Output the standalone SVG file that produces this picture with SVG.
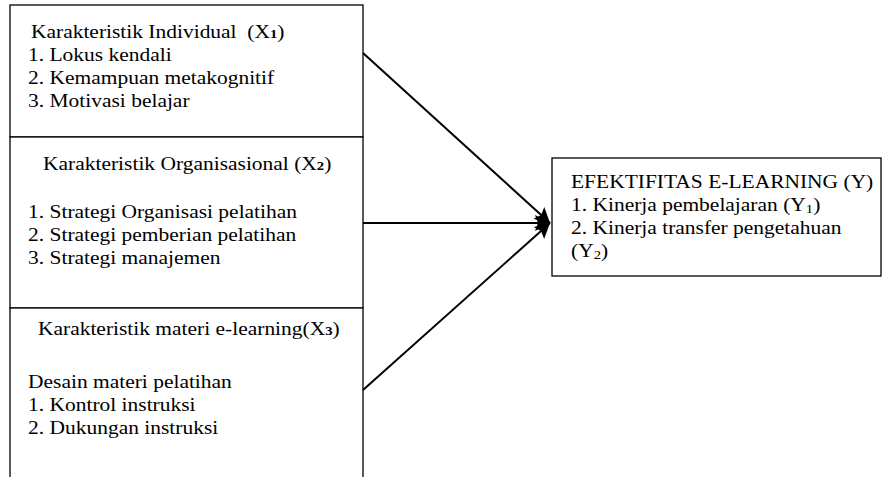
<svg xmlns="http://www.w3.org/2000/svg" width="883" height="477" viewBox="0 0 883 477">
<style>
  .box { fill: #fff; stroke: #000; stroke-width: 1.3; }
  .t { font-family: "Liberation Serif", "Times New Roman", serif; font-size: 19px; fill: #000; }
  .sb { font-size: 13px; font-weight: bold; }
  .s { font-size: 13px; }
  .conn { stroke: #000; stroke-width: 2; fill: none; marker-end: url(#ah); }
</style>
<defs>
  <marker id="ah" markerUnits="userSpaceOnUse" markerWidth="16" markerHeight="16" refX="15" refY="8" orient="auto">
    <path d="M0,0 L15,8 L0,16 L3,8 Z" fill="#000"/>
  </marker>
</defs>
<rect width="883" height="477" fill="#fff"/>
<g id="x1">
  <rect class="box" x="10" y="5" width="353" height="132"/>
  <g transform="scale(1.13,1)">
    <text class="t" x="27.4" y="38">Karakteristik Individual&#160; (X<tspan class="sb">1</tspan>)</text>
    <text class="t" x="24.8" y="61">1. Lokus kendali</text>
    <text class="t" x="24.8" y="84">2. Kemampuan metakognitif</text>
    <text class="t" x="24.8" y="107">3. Motivasi belajar</text>
  </g>
</g>
<g id="x2">
  <rect class="box" x="10" y="137" width="353" height="171"/>
  <g transform="scale(1.13,1)">
    <text class="t" x="38.1" y="170">Karakteristik Organisasional (X<tspan class="sb">2</tspan>)</text>
    <text class="t" x="24.8" y="218">1. Strategi Organisasi pelatihan</text>
    <text class="t" x="24.8" y="241">2. Strategi pemberian pelatihan</text>
    <text class="t" x="24.8" y="264">3. Strategi manajemen</text>
  </g>
</g>
<g id="x3">
  <rect class="box" x="10" y="308" width="353" height="175"/>
  <g transform="scale(1.13,1)">
    <text class="t" x="33.6" y="335">Karakteristik materi e-learning(X<tspan class="sb">3</tspan>)</text>
    <text class="t" x="24.8" y="388">Desain materi pelatihan</text>
    <text class="t" x="24.8" y="411">1. Kontrol instruksi</text>
    <text class="t" x="24.8" y="434">2. Dukungan instruksi</text>
  </g>
</g>
<g id="y">
  <rect class="box" x="552" y="158" width="329" height="118"/>
  <g transform="scale(1.13,1)">
    <text class="t" x="505.3" y="188">EFEKTIFITAS E-LEARNING (Y)</text>
    <text class="t" x="505.3" y="211">1. Kinerja pembelajaran (Y<tspan class="s" dy="2">1</tspan><tspan dy="-2">)</tspan></text>
    <text class="t" x="505.3" y="234">2. Kinerja transfer pengetahuan</text>
    <text class="t" x="505.3" y="257">(Y<tspan class="s" dy="2">2</tspan><tspan dy="-2">)</tspan></text>
  </g>
</g>
<g id="connectors">
  <line class="conn" x1="363" y1="53" x2="550" y2="223"/>
  <line class="conn" x1="363" y1="223" x2="550" y2="223"/>
  <line class="conn" x1="363" y1="390" x2="550" y2="223"/>
</g>
</svg>
